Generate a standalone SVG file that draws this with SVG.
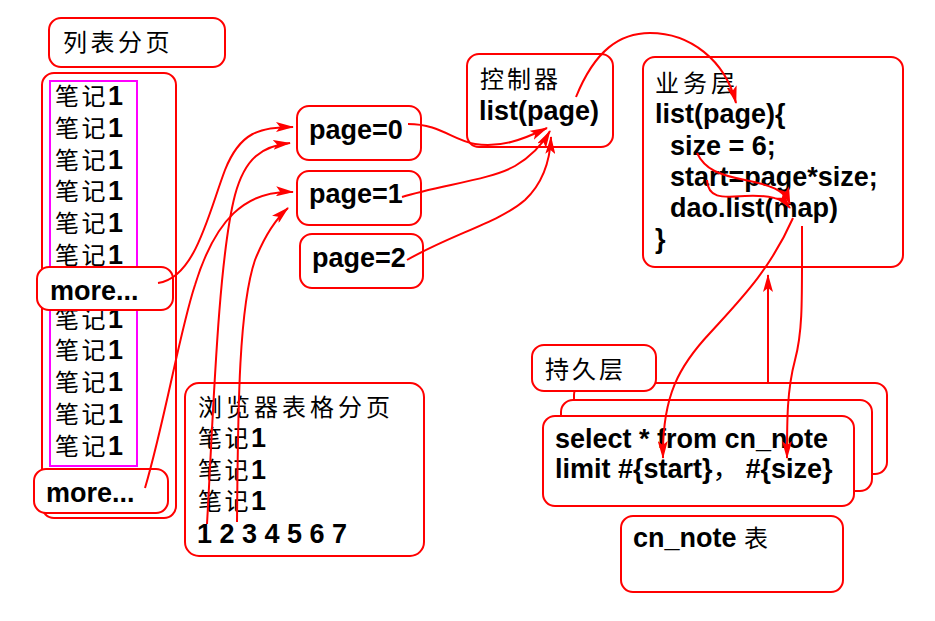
<svg xmlns="http://www.w3.org/2000/svg" width="935" height="621" viewBox="0 0 935 621">
<defs>
<style>
.box{fill:#fff;stroke:#ff0000;stroke-width:2}
.mag{fill:none;stroke:#ff00ff;stroke-width:2}
.cn{font-family:"Noto Sans CJK SC","Noto Sans",sans-serif;font-size:24px;fill:#000;letter-spacing:3px}
.en{font-family:"Liberation Sans",Arial,sans-serif;font-size:27px;font-weight:bold;fill:#000}
.n1{font-family:"Liberation Sans",Arial,sans-serif;font-weight:bold;font-size:27px;letter-spacing:0}
.c{fill:none;stroke:#ff0000;stroke-width:2}
</style>
<marker id="ah" viewBox="0 0 18 10" refX="17" refY="5" markerWidth="18" markerHeight="10" markerUnits="userSpaceOnUse" orient="auto">
<path d="M0,0 L18,5 L0,10 L4,5 z" fill="#ff0000"/>
</marker>
</defs>
<rect width="935" height="621" fill="#fff"/>

<g id="title-list">
<rect class="box" x="49" y="18" width="176" height="49" rx="12"/>
<text class="cn" x="63" y="51" style="letter-spacing:3.5px">列表分页</text>
</g>

<g id="list-panel">
<rect class="box" x="42" y="73" width="134" height="445" rx="12"/>
<rect class="mag" x="50" y="81" width="87" height="385"/>
<g class="cn" style="letter-spacing:2.5px">
<text x="55" y="105">笔记<tspan class="n1">1</tspan></text>
<text x="55" y="136.8">笔记<tspan class="n1">1</tspan></text>
<text x="55" y="168.6">笔记<tspan class="n1">1</tspan></text>
<text x="55" y="200.4">笔记<tspan class="n1">1</tspan></text>
<text x="55" y="232.2">笔记<tspan class="n1">1</tspan></text>
<text x="55" y="264">笔记<tspan class="n1">1</tspan></text>
<text x="55" y="327.6">笔记<tspan class="n1">1</tspan></text>
<text x="55" y="359.4">笔记<tspan class="n1">1</tspan></text>
<text x="55" y="391.2">笔记<tspan class="n1">1</tspan></text>
<text x="55" y="423">笔记<tspan class="n1">1</tspan></text>
<text x="55" y="454.8">笔记<tspan class="n1">1</tspan></text>
</g>
</g>

<g id="more1">
<rect class="box" x="37" y="267" width="136" height="43" rx="12"/>
<text class="en" x="50" y="300">more...</text>
</g>

<g id="more2">
<rect class="box" x="34" y="469" width="134" height="44" rx="12"/>
<text class="en" x="46" y="502">more...</text>
</g>

<g id="browser">
<rect class="box" x="185" y="383" width="239" height="173" rx="14"/>
<text class="cn" x="198" y="416" style="letter-spacing:4px">浏览器表格分页</text>
<g class="cn" style="letter-spacing:2.5px">
<text x="198" y="447">笔记<tspan class="n1">1</tspan></text>
<text x="198" y="479">笔记<tspan class="n1">1</tspan></text>
<text x="198" y="510">笔记<tspan class="n1">1</tspan></text>
</g>
<text class="en" x="197" y="543">1 2 3 4 5 6 7</text>
</g>

<g id="page0">
<rect class="box" x="297" y="106" width="124" height="54" rx="12"/>
<text class="en" x="309" y="139">page=0</text>
</g>
<g id="page1">
<rect class="box" x="297" y="171" width="124" height="54" rx="12"/>
<text class="en" x="309" y="203">page=1</text>
</g>
<g id="page2">
<rect class="box" x="300" y="234" width="123" height="54" rx="12"/>
<text class="en" x="312" y="267">page=2</text>
</g>

<g id="controller">
<rect class="box" x="467" y="54" width="146" height="93" rx="12"/>
<text class="cn" x="480" y="88">控制器</text>
<text class="en" x="479" y="120">list(page)</text>
</g>

<g id="service">
<rect class="box" x="643" y="57" width="260" height="210" rx="12"/>
<text class="cn" x="655" y="92" style="letter-spacing:4px">业务层</text>
<text class="en" x="655" y="123">list(page){</text>
<text class="en" x="670" y="155">size = 6;</text>
<text class="en" x="670" y="186">start=page*size;</text>
<text class="en" x="670" y="217">dao.list(map)</text>
<text class="en" x="655" y="248">}</text>
</g>

<g id="dao">
<rect class="box" x="574" y="383" width="313" height="91" rx="12"/>
<rect class="box" x="561" y="400" width="311" height="91" rx="12"/>
<rect class="box" x="543" y="416" width="311" height="90" rx="12"/>
<text class="en" x="555" y="448">select * from cn_note</text>
<text class="en" x="555" y="478">limit #{start}<tspan style="font-family:'Noto Sans CJK SC',sans-serif;font-weight:normal">，</tspan><tspan dx="6">#{size}</tspan></text>
</g>

<g id="dao-title">
<rect class="box" x="532" y="345" width="124" height="46" rx="12"/>
<text class="cn" x="545" y="378">持久层</text>
</g>

<g id="table">
<rect class="box" x="621" y="516" width="222" height="76" rx="12"/>
<text class="en" x="633" y="547">cn_note <tspan style="font-family:'Noto Sans CJK SC',sans-serif;font-weight:normal;font-size:24px">表</tspan></text>
</g>

<g id="connectors" class="c" marker-end="url(#ah)">
<path d="M158,283 C195,278 208,215 225,170 C240,132 260,127 293,127"/>
<path d="M207,524 C213,420 218,260 235,195 C245,158 262,146 290,143"/>
<path d="M145,488 C165,420 180,330 195,285 C215,220 245,190 293,192"/>
<path d="M237,522 C238,420 238,310 255,260 C265,235 277,218 288,208"/>
<path d="M408,124 C440,124 452,140 475,144 C500,148 522,140 547,128"/>
<path d="M402,197 C440,185 490,180 515,166 C532,156 542,145 550,131"/>
<path d="M407,260 C450,235 500,222 525,200 C543,183 550,162 551,137"/>
<path d="M576,97 C595,50 620,33 650,33 C690,33 725,60 736,103"/>
<path d="M697,153 C705,170 720,175 745,180 C770,185 785,190 790,204"/>
<path d="M707,180 C708,200 725,197 745,196 C770,195 782,198 790,208"/>
<path d="M793,218 C770,270 740,300 710,333 C680,365 662,395 663,458"/>
<path d="M802,226 C802,300 803,330 795,360 C787,390 787,420 787,458"/>
<path d="M768,383 L768,275"/>
</g>
</svg>
